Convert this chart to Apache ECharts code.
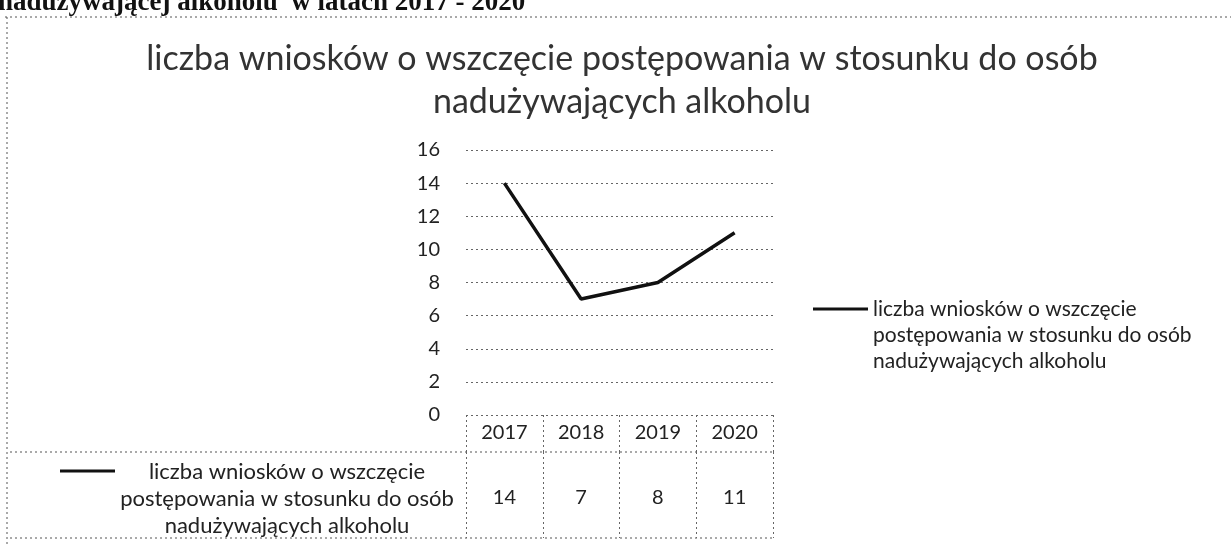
<!DOCTYPE html>
<html>
<head>
<meta charset="utf-8">
<script src="https://cdn.jsdelivr.net/npm/echarts@6/dist/echarts.min.js"></script>
<style>
  html, body { margin: 0; padding: 0; background: #fff; }
  #chart { width: 1231px; height: 545px; }
</style>
</head>
<body>
<div id="chart"></div>
<script>
// dane z wykresu
var years = ['2017', '2018', '2019', '2020'];
var wnioski = [14, 7, 8, 11];
var yTicks = { min: 0, max: 16, interval: 2 };
var seriesName = 'liczba wniosków o wszczęcie\npostępowania w stosunku do osób\nnadużywających alkoholu';
var titleText = 'liczba wniosków o wszczęcie postępowania w stosunku do osób\nnadużywających alkoholu';
var headerText = 'nadużywającej alkoholu  w latach 2017 - 2020';

var font = 'Lato, "Open Sans", sans-serif';
var dotted = { color: '#666', type: [2, 3], width: 1 };
var dashStyle = { stroke: '#555', lineDash: [2, 3], lineWidth: 1 };

var myChart = echarts.init(document.getElementById('chart'));

var option = {
  animation: false,
  backgroundColor: '#fff',
  title: {
    text: titleText,
    left: 622,
    top: 38,
    padding: 0,
    textAlign: 'center',
    textStyle: {
      fontFamily: font,
      fontSize: 34,
      fontWeight: 'normal',
      color: '#333',
      lineHeight: 43
    }
  },
  legend: {
    data: [seriesName],
    orient: 'vertical',
    left: 813,
    top: 296,
    padding: 0,
    // linia u góry ikony, żeby stała przy pierwszym wierszu opisu
    icon: 'path://M0,0H55V3H0Z M54.99,54.99H55V55H54.99Z',
    itemWidth: 55,
    itemHeight: 55,
    textStyle: {
      fontFamily: font,
      fontSize: 21,
      color: '#222',
      lineHeight: 26
    }
  },
  grid: [
    { left: 466, width: 307, top: 150, height: 265 },
    { left: 466, width: 307, top: 452, height: 86 }
  ],
  xAxis: [
    {
      type: 'category',
      gridIndex: 0,
      data: years,
      boundaryGap: true,
      axisLine: { show: false },
      axisTick: { show: true, length: 37, interval: 0, lineStyle: dotted },
      axisLabel: { fontFamily: font, fontSize: 20, color: '#222', margin: 8 },
      splitLine: { show: false }
    },
    {
      type: 'category',
      gridIndex: 1,
      data: years,
      boundaryGap: true,
      axisLine: { show: false },
      axisTick: { show: false },
      splitLine: { show: true, interval: 0, lineStyle: dotted },
      axisLabel: {
        inside: true,
        margin: 30,
        fontFamily: font,
        fontSize: 20,
        color: '#222',
        formatter: function (v, i) { return String(wnioski[i]); }
      }
    }
  ],
  yAxis: [
    {
      type: 'value',
      gridIndex: 0,
      min: yTicks.min,
      max: yTicks.max,
      interval: yTicks.interval,
      axisLine: { show: false },
      axisTick: { show: false },
      axisLabel: { fontFamily: font, fontSize: 20, color: '#222', margin: 26 },
      splitLine: { show: true, lineStyle: dotted }
    },
    { type: 'value', gridIndex: 1, show: false }
  ],
  series: [
    {
      name: seriesName,
      type: 'line',
      xAxisIndex: 0,
      yAxisIndex: 0,
      data: wnioski,
      symbol: 'none',
      lineStyle: { color: '#111', width: 3.5 },
      itemStyle: { color: '#111' }
    }
  ],
  graphic: [
    // obcięty nagłówek nad wykresem
    {
      type: 'text', left: -2, top: -10, silent: true,
      style: { text: headerText, font: 'bold 27px "Liberation Serif", serif', fill: '#111' }
    },
    // ramka wykresu
    { type: 'line', shape: { x1: 5, y1: 17, x2: 1231, y2: 17 }, style: dashStyle },
    { type: 'line', shape: { x1: 7, y1: 17, x2: 7, y2: 545 }, style: dashStyle },
    // linie tabeli danych
    { type: 'line', shape: { x1: 10, y1: 452, x2: 773, y2: 452 }, style: dashStyle },
    { type: 'line', shape: { x1: 10, y1: 538, x2: 773, y2: 538 }, style: dashStyle },
    // nagłówek wiersza tabeli
    { type: 'line', shape: { x1: 60, y1: 471, x2: 115, y2: 471 }, style: { stroke: '#111', lineWidth: 3 } },
    {
      type: 'text', silent: true,
      style: {
        text: seriesName, x: 287, y: 458, align: 'center', verticalAlign: 'top',
        font: '22px ' + font, lineHeight: 27, fill: '#222'
      }
    }
  ]
};

myChart.setOption(option, true);
</script>
</body>
</html>
